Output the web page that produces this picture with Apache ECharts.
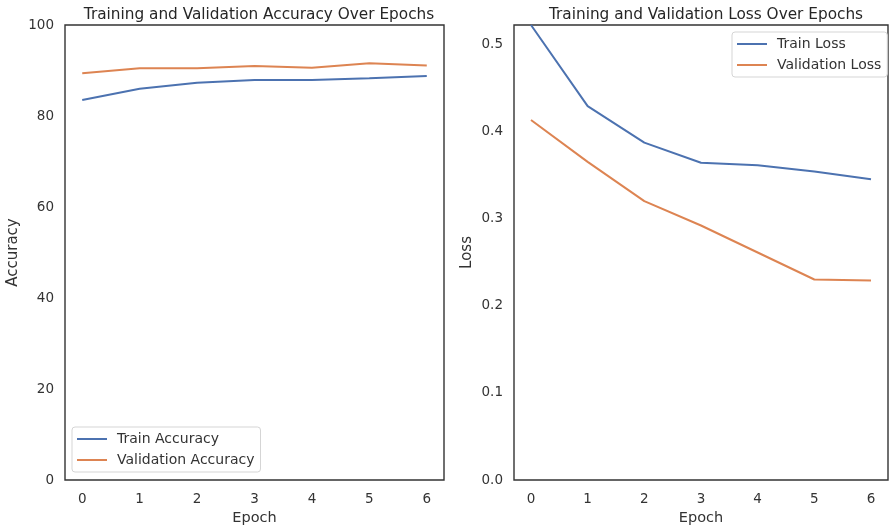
<!DOCTYPE html>
<html>
<head>
<meta charset="utf-8">
<script src="https://cdn.jsdelivr.net/npm/echarts@6/dist/echarts.min.js"></script>
<style>
  html, body { margin: 0; padding: 0; background: #fff; }
  #chart { width: 893px; height: 531px; }
</style>
</head>
<body>
<div id="chart"></div>
<script>
// Per-epoch training history
const epochs = [0, 1, 2, 3, 4, 5, 6];
const trainAccuracy = [83.5, 86.0, 87.3, 87.9, 87.9, 88.3, 88.8];
const valAccuracy = [89.4, 90.5, 90.5, 91.0, 90.6, 91.6, 91.1];
const trainLoss = [0.522, 0.429, 0.387, 0.364, 0.361, 0.354, 0.345];
const valLoss = [0.413, 0.365, 0.320, 0.292, 0.261, 0.230, 0.229];

const accTicks = [0, 20, 40, 60, 80, 100];
const lossTicks = [0, 0.1, 0.2, 0.3, 0.4, 0.5];

const BLUE = '#4c72b0';
const ORANGE = '#dd8452';
const FONT = 'DejaVu Sans';
const TEXT = '#333';

const pairs = (ys) => epochs.map((e, i) => [e, ys[i]]);

function xAxis(gridIndex) {
  return {
    type: 'value', gridIndex, min: -0.3, max: 6.3,
    name: 'Epoch', nameLocation: 'middle', nameGap: 31,
    nameTextStyle: { fontFamily: FONT, fontSize: 14.5, color: TEXT },
    axisLine: { show: false }, axisTick: { show: false }, splitLine: { show: false },
    axisLabel: { customValues: epochs, fontFamily: FONT, fontSize: 13.5, color: TEXT, margin: 12 }
  };
}

function yAxis(gridIndex, name, max, ticks, digits, gap) {
  return {
    type: 'value', gridIndex, min: 0, max,
    name, nameLocation: 'middle', nameGap: gap,
    nameTextStyle: { fontFamily: FONT, fontSize: 15, color: TEXT },
    axisLine: { show: false }, axisTick: { show: false }, splitLine: { show: false },
    axisLabel: {
      customValues: ticks, fontFamily: FONT, fontSize: 13.5, color: TEXT, margin: 11,
      formatter: (v) => v.toFixed(digits)
    }
  };
}

function line(name, data, color, xi) {
  return {
    type: 'line', name, data, xAxisIndex: xi, yAxisIndex: xi,
    showSymbol: false, symbol: 'none', silent: true,
    lineStyle: { color, width: 2 }, itemStyle: { color }
  };
}

const legendBase = {
  orient: 'vertical', icon: 'rect', itemWidth: 30, itemHeight: 2, itemGap: 7,
  textStyle: { fontFamily: FONT, fontSize: 14, color: TEXT, padding: [0, 0, 0, 5] },
  borderColor: '#d5d5d5', borderWidth: 1, borderRadius: 3,
  backgroundColor: 'rgba(255,255,255,0.8)', padding: [5, 6, 5, 5], selectedMode: false
};

const chart = echarts.init(document.getElementById('chart'), null, { renderer: 'canvas' });
chart.setOption({
  animation: false,
  backgroundColor: '#fff',
  title: [
    { text: 'Training and Validation Accuracy Over Epochs', left: 254, top: 3, textAlign: 'center',
      textStyle: { fontFamily: FONT, fontSize: 15.3, fontWeight: 'normal', color: '#262626' } },
    { text: 'Training and Validation Loss Over Epochs', left: 701, top: 3, textAlign: 'center',
      textStyle: { fontFamily: FONT, fontSize: 15.3, fontWeight: 'normal', color: '#262626' } }
  ],
  grid: [
    { left: 65, right: 449, top: 25, bottom: 51, show: true, borderColor: '#333', borderWidth: 1.4 },
    { left: 514, right: 5, top: 25, bottom: 51, show: true, borderColor: '#333', borderWidth: 1.4 }
  ],
  legend: [
    Object.assign({}, legendBase, { data: ['Train Accuracy', 'Validation Accuracy'], left: 72, top: 427 }),
    Object.assign({}, legendBase, { data: ['Train Loss', 'Validation Loss'], left: 732, top: 32 })
  ],
  xAxis: [xAxis(0), xAxis(1)],
  yAxis: [
    yAxis(0, 'Accuracy', 100, accTicks, 0, 44),
    yAxis(1, 'Loss', 0.522, lossTicks, 1, 39)
  ],
  series: [
    line('Train Accuracy', pairs(trainAccuracy), BLUE, 0),
    line('Validation Accuracy', pairs(valAccuracy), ORANGE, 0),
    line('Train Loss', pairs(trainLoss), BLUE, 1),
    line('Validation Loss', pairs(valLoss), ORANGE, 1)
  ]
});
</script>
</body>
</html>
